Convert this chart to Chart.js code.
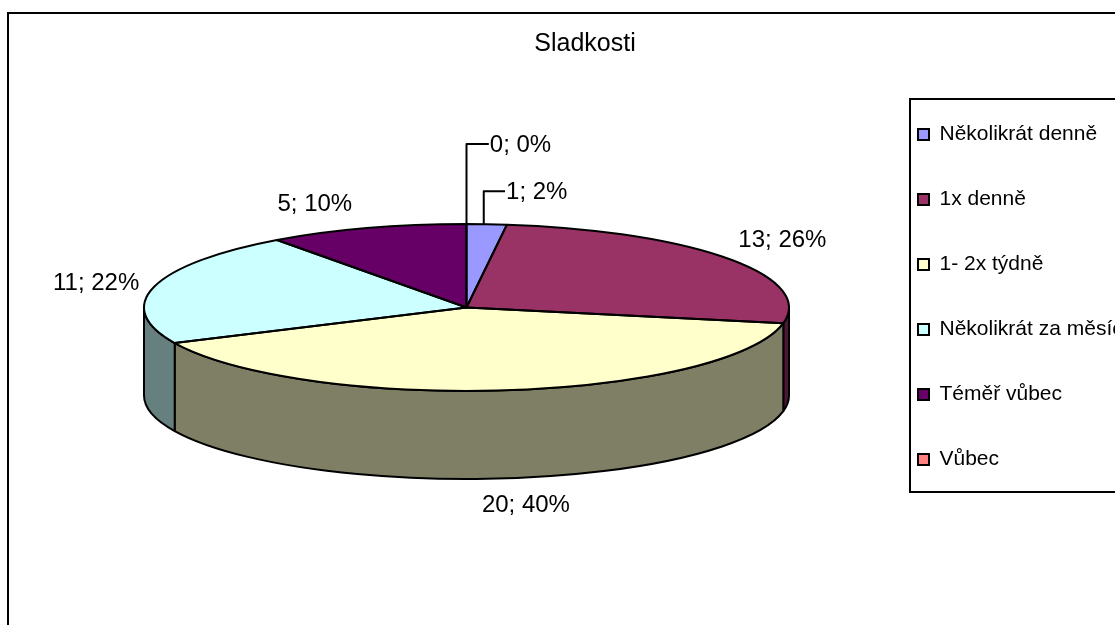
<!DOCTYPE html>
<html lang="cs">
<head>
<meta charset="utf-8">
<title>Sladkosti</title>
<script src="https://cdn.jsdelivr.net/npm/chart.js@4"></script>
<style>
  html, body { margin: 0; padding: 0; background: #fff; overflow: hidden; width: 1115px; height: 625px; }
  canvas { display: block; }
</style>
</head>
<body>
<canvas id="sladkostiChart" width="1170" height="720"></canvas>
<script>
const categories = ['Několikrát denně', '1x denně', '1- 2x týdně', 'Několikrát za měsíc', 'Téměř vůbec', 'Vůbec'];
const answers = [1, 13, 20, 11, 5, 0];
const sliceColors = ['#9999FF', '#993366', '#FFFFCC', '#CCFFFF', '#660066', '#FF8080'];
const chartTitle = 'Sladkosti';

// text placement around the pie, relative to the rim point of each slice
const labelOffsets = [[50, -33], [55, -19], [19, 114], [-58, -4], [-52, -25], [54, -80]];

const PIE = { cx: 466.5, cy: 307.5, rx: 322.5, ry: 83.5, depth: 88 };
const LINE = 2;
const total = answers.reduce((a, b) => a + b, 0);

// side wall is the slice colour at half brightness
function halfShade(hex) {
    const n = parseInt(hex.slice(1), 16);
    return `rgb(${(n >> 16) >> 1}, ${((n >> 8) & 255) >> 1}, ${(n & 255) >> 1})`;
}

function rimPoint(angle) {
    return { x: PIE.cx + PIE.rx * Math.cos(angle), y: PIE.cy + PIE.ry * Math.sin(angle) };
}

const pie3d = {
    id: 'pie3d',
    afterLayout(chart) {
        // legend sits in its own box, overrides the slot the layout gave it
        const legend = chart.legend;
        const pad = legend.options.labels.padding;
        legend.left = 918 - pad;
        legend.top = 124 - pad;
        legend.bottom = 700;
    },
    beforeDraw(chart) {
        const ctx = chart.ctx;
        ctx.save();
        ctx.strokeStyle = '#000';
        ctx.lineWidth = 2;
        ctx.strokeRect(8, 13, 1400, 900);   // chart frame
        ctx.strokeRect(910, 99, 400, 393);  // legend frame
        ctx.restore();
    },
    beforeDatasetsDraw(chart) {
        const ctx = chart.ctx;
        const arcs = chart.getDatasetMeta(0).data;

        // side walls: only the front half of the rim is visible
        ctx.save();
        ctx.lineWidth = LINE;
        ctx.strokeStyle = '#000';
        ctx.lineJoin = 'round';
        arcs.forEach((arc, i) => {
            const a0 = Math.max(arc.startAngle, 0);
            const a1 = Math.min(arc.endAngle, Math.PI);
            if (a1 <= a0) return;
            ctx.beginPath();
            ctx.ellipse(PIE.cx, PIE.cy, PIE.rx, PIE.ry, 0, a0, a1);
            ctx.ellipse(PIE.cx, PIE.cy + PIE.depth, PIE.rx, PIE.ry, 0, a1, a0, true);
            ctx.closePath();
            ctx.fillStyle = halfShade(sliceColors[i]);
            ctx.fill();
            ctx.stroke();
        });
        ctx.restore();

        // flatten the circle the controller draws into the top ellipse
        const first = arcs[0];
        ctx.save();
        ctx.translate(PIE.cx, PIE.cy);
        ctx.scale(PIE.rx / first.outerRadius, PIE.ry / first.outerRadius);
        ctx.translate(-first.x, -first.y);
    },
    afterDatasetsDraw(chart) {
        const ctx = chart.ctx;
        ctx.restore();

        const arcs = chart.getDatasetMeta(0).data;
        ctx.save();
        ctx.lineWidth = LINE;
        ctx.strokeStyle = '#000';
        ctx.lineJoin = 'round';
        arcs.forEach(arc => {
            if (arc.endAngle - arc.startAngle <= 0) return;
            ctx.beginPath();
            ctx.moveTo(PIE.cx, PIE.cy);
            ctx.ellipse(PIE.cx, PIE.cy, PIE.rx, PIE.ry, 0, arc.startAngle, arc.endAngle);
            ctx.closePath();
            ctx.stroke();
        });

        // value; percent labels, the two smallest slices get a leader line
        ctx.font = '24px "Liberation Sans", Arial, sans-serif';
        ctx.fillStyle = '#000';
        ctx.textAlign = 'center';
        ctx.textBaseline = 'middle';
        arcs.forEach((arc, i) => {
            const rim = rimPoint((arc.startAngle + arc.endAngle) / 2);
            const lx = rim.x + labelOffsets[i][0];
            const ly = rim.y + labelOffsets[i][1];
            const text = `${answers[i]}; ${Math.round(answers[i] / total * 100)}%`;
            if (answers[i] / total < 0.05) {
                const left = lx - ctx.measureText(text).width / 2 - 1;
                const footX = i === 0 ? rim.x - 3 : rim.x;
                ctx.beginPath();
                ctx.moveTo(footX, rim.y);
                ctx.lineTo(footX, ly);
                ctx.lineTo(left, ly);
                ctx.stroke();
            }
            ctx.fillText(text, lx, ly + 1);
        });
        ctx.restore();
    }
};

new Chart(document.getElementById('sladkostiChart'), {
    type: 'pie',
    data: {
        labels: categories,
        datasets: [{ data: answers, backgroundColor: sliceColors, borderWidth: 0, clip: false }]
    },
    options: {
        responsive: false,
        animation: false,
        events: [],
        plugins: {
            title: {
                display: true,
                text: chartTitle,
                color: '#000',
                font: { family: '"Liberation Sans", Arial, sans-serif', size: 25, weight: 'normal' },
                padding: { top: 29, bottom: 10 }
            },
            legend: {
                position: 'right',
                align: 'start',
                labels: {
                    boxWidth: 11,
                    boxHeight: 11,
                    padding: 44,
                    color: '#000',
                    font: { family: '"Liberation Sans", Arial, sans-serif', size: 21 },
                    generateLabels(chart) {
                        const items = Chart.overrides.pie.plugins.legend.labels.generateLabels(chart);
                        items.forEach(item => {
                            item.strokeStyle = '#000';
                            item.lineWidth = 2;
                            item.hidden = false;
                        });
                        return items;
                    }
                }
            },
            tooltip: { enabled: false }
        }
    },
    plugins: [pie3d]
});
</script>
</body>
</html>
